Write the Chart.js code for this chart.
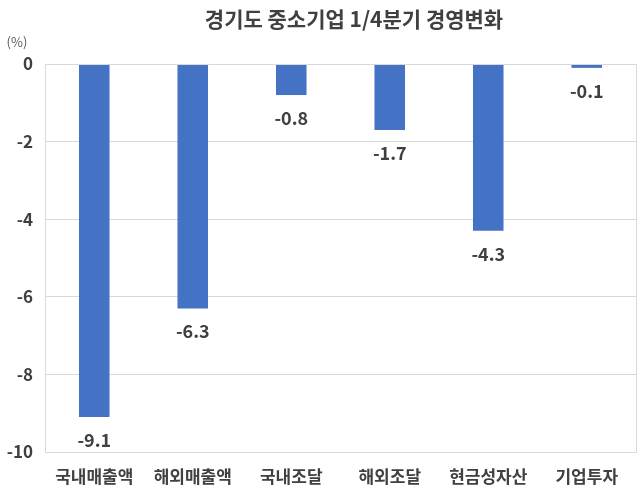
<!DOCTYPE html>
<html>
<head>
<meta charset="utf-8">
<script src="https://cdn.jsdelivr.net/npm/chart.js@4.4.1/dist/chart.umd.min.js"></script>
<style>
  html, body { margin: 0; padding: 0; background: #ffffff; }
  #wrap { width: 640px; height: 500px; position: relative; }
</style>
</head>
<body>
<div id="wrap"><canvas id="c" width="640" height="500"></canvas></div>
<script>
const titleText = '경기도 중소기업 1/4분기 경영변화';
const unitLabel = '(%)';
const categories = ['국내매출액', '해외매출액', '국내조달', '해외조달', '현금성자산', '기업투자'];
const values = [-9.1, -6.3, -0.8, -1.7, -4.3, -0.1];
const yMin = -10, yMax = 0, yStep = 2;

const FONT = '"Noto Sans CJK KR", "Noto Sans", sans-serif';
const TEXT = '#404040';

const decor = {
  id: 'decor',
  afterDraw(chart) {
    const ctx = chart.ctx;
    const a = chart.chartArea;
    ctx.save();
    ctx.strokeStyle = '#d9d9d9';
    ctx.lineWidth = 1;
    ctx.strokeRect(Math.round(a.left) + 0.5, Math.round(a.top) + 0.5, Math.round(a.right - a.left), Math.round(a.bottom - a.top));
    ctx.fillStyle = '#404040';
    ctx.font = 'bold 21px ' + FONT;
    ctx.textAlign = 'center';
    ctx.textBaseline = 'middle';
    ctx.fillText(titleText, 354, 19);
    ctx.font = '13px ' + FONT;
    ctx.fillStyle = '#595959';
    ctx.fillText(unitLabel, 17, 42);
    ctx.font = '600 18px ' + FONT;
    ctx.fillStyle = TEXT;
    const meta = chart.getDatasetMeta(0);
    meta.data.forEach((bar, i) => {
      const v = chart.data.datasets[0].data[i];
      ctx.fillText(v.toFixed(1), bar.x, bar.y + 23);
    });
    ctx.restore();
  }
};

new Chart(document.getElementById('c'), {
  type: 'bar',
  data: {
    labels: categories,
    datasets: [{
      data: values,
      backgroundColor: '#4472C4',
      borderWidth: 0,
      barPercentage: 0.31,
      categoryPercentage: 1.0
    }]
  },
  options: {
    responsive: false,
    animation: false,
    devicePixelRatio: 1,
    layout: { padding: { top: 64, right: 4, left: 0, bottom: 0 } },
    plugins: { legend: { display: false }, title: { display: false }, tooltip: { enabled: false } },
    scales: {
      x: {
        grid: { display: false },
        border: { display: false },
        ticks: { color: TEXT, font: { family: FONT, size: 17, weight: 'bold' }, padding: 6, maxRotation: 0, autoSkip: false },
        afterFit(s) { s.height = 48; }
      },
      y: {
        min: yMin, max: yMax,
        ticks: { stepSize: yStep, color: TEXT, font: { family: FONT, size: 17, weight: '600' }, padding: 12 },
        grid: { color: '#d9d9d9', drawTicks: false },
        border: { display: true, color: '#d9d9d9' },
        afterFit(s) { s.width = 45; }
      }
    }
  },
  plugins: [decor]
});
</script>
</body>
</html>
